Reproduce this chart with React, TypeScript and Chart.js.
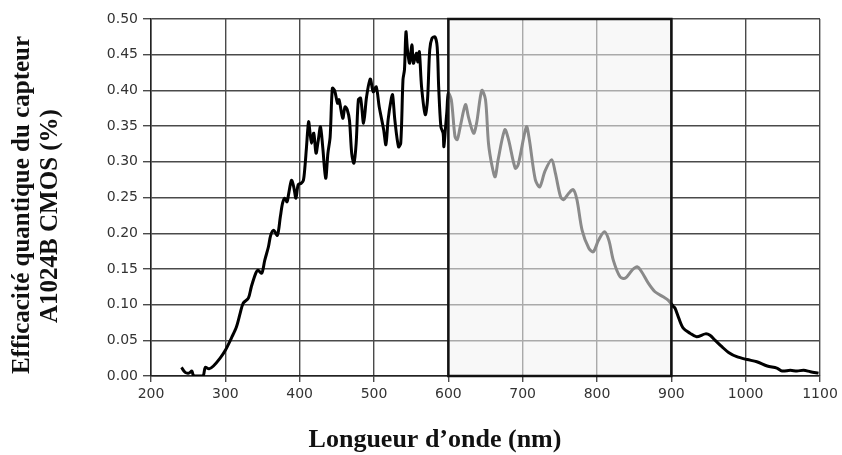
import React, { useEffect, useRef } from "react";
import { Chart, registerables } from "chart.js";

Chart.register(...registerables);

const wavelengths = [
  241, 246, 251, 255, 257, 262, 270, 273, 278, 284, 293, 300, 309, 315, 320, 324, 331, 335, 341, 344,
  349, 353, 358, 361, 365, 370, 374, 377, 380, 383, 385, 389, 392, 395, 398, 402, 405, 407, 409, 412,
  414, 416, 419, 422, 425, 428, 431, 435, 438, 441, 444, 447, 451, 453, 458, 461, 464, 467, 470, 473,
  476, 479, 482, 486, 490, 495, 499, 503, 507, 513, 516, 519, 523, 525, 528, 533, 536, 539, 541, 543,
  545, 548, 551, 553, 557, 559, 561, 564, 569, 572, 575, 578, 582, 585, 587, 590, 593, 594, 596, 598,
  600, 604, 609, 612, 616, 623, 627, 634, 638, 645, 650, 654, 659, 663, 667, 676, 681, 690, 694, 705,
  709, 717, 723, 730, 739, 744, 751, 755, 762, 768, 773, 780, 789, 795, 802, 810, 816, 822, 831, 838,
  847, 854, 860, 869, 878, 889, 896, 903, 905, 910, 916, 925, 934, 946, 952, 959, 968, 977, 988, 1002,
  1015, 1029, 1042, 1049, 1060, 1069, 1078, 1087, 1098,
];

const efficiency = [
  0.012, 0.005, 0.004, 0.007, 0.001, 0.0, 0.0, 0.012, 0.01, 0.014, 0.025, 0.036, 0.055, 0.069, 0.088, 0.102, 0.109, 0.125, 0.144, 0.148,
  0.144, 0.162, 0.181, 0.197, 0.204, 0.197, 0.223, 0.242, 0.249, 0.244, 0.254, 0.274, 0.265, 0.249, 0.268, 0.27, 0.274, 0.292, 0.318, 0.356,
  0.34, 0.326, 0.34, 0.312, 0.33, 0.349, 0.321, 0.277, 0.312, 0.335, 0.403, 0.4, 0.382, 0.387, 0.361, 0.377, 0.373, 0.358, 0.312, 0.298,
  0.326, 0.387, 0.389, 0.354, 0.391, 0.416, 0.398, 0.405, 0.377, 0.345, 0.324, 0.359, 0.387, 0.394, 0.359, 0.321, 0.326, 0.415, 0.429, 0.482,
  0.457, 0.438, 0.464, 0.438, 0.452, 0.44, 0.454, 0.405, 0.366, 0.387, 0.457, 0.473, 0.475, 0.461, 0.405, 0.349, 0.34, 0.321, 0.345, 0.37,
  0.396, 0.387, 0.335, 0.331, 0.349, 0.38, 0.363, 0.34, 0.354, 0.4, 0.387, 0.326, 0.293, 0.279, 0.303, 0.345, 0.331, 0.291, 0.296, 0.349,
  0.331, 0.275, 0.265, 0.287, 0.303, 0.284, 0.251, 0.247, 0.256, 0.261, 0.247, 0.204, 0.179, 0.174, 0.19, 0.202, 0.19, 0.162, 0.139, 0.137,
  0.148, 0.153, 0.146, 0.13, 0.118, 0.111, 0.106, 0.097, 0.095, 0.081, 0.067, 0.06, 0.055, 0.059, 0.057, 0.05, 0.041, 0.033, 0.027, 0.023,
  0.02, 0.014, 0.011, 0.007, 0.008, 0.007, 0.008, 0.006, 0.004,
];

const highlightRange = [600, 900];
const xTitle = "Longueur d\u2019onde (nm)";
const yTitleLines = ["Efficacité quantique du capteur", "A1024B CMOS (%)"];

const serif = "'Liberation Serif', 'Times New Roman', serif";

const overlayPlugin = {
  id: "overlay",
  afterDatasetsDraw(chart: any) {
    const { ctx, scales } = chart;
    const x0 = scales.x.getPixelForValue(highlightRange[0]);
    const x1 = scales.x.getPixelForValue(highlightRange[1]);
    const y0 = scales.y.getPixelForValue(0.5);
    const y1 = scales.y.getPixelForValue(0);
    ctx.save();
    ctx.fillStyle = "rgba(243,243,243,0.57)";
    ctx.fillRect(x0, y0, x1 - x0, y1 - y0);
    ctx.strokeStyle = "#111";
    ctx.lineWidth = 2.5;
    ctx.strokeRect(x0, y0, x1 - x0, y1 - y0);
    ctx.restore();
  },
  afterDraw(chart: any) {
    const { ctx } = chart;
    ctx.save();
    ctx.fillStyle = "#111";
    ctx.textAlign = "center";
    ctx.textBaseline = "middle";
    ctx.font = `bold 26px ${serif}`;
    ctx.fillText(xTitle, 435, 440);
    ctx.font = `bold 25px ${serif}`;
    ctx.save();
    ctx.translate(23, 205);
    ctx.rotate(-Math.PI / 2);
    ctx.fillText(yTitleLines[0], 0, 0);
    ctx.restore();
    ctx.save();
    ctx.translate(51, 216);
    ctx.rotate(-Math.PI / 2);
    ctx.fillText(yTitleLines[1], 0, 0);
    ctx.restore();
    ctx.restore();
  },
};

export default function App() {
  const ref = useRef<HTMLCanvasElement | null>(null);
  useEffect(() => {
    if (!ref.current) return;
    const points = wavelengths.map((w, i) => ({ x: w, y: efficiency[i] }));
    const gridColor = "#4a4a4a";
    const tickFont = { family: "'DejaVu Sans', Verdana, sans-serif", size: 14 };
    const chart = new Chart(ref.current, {
      type: "line",
      data: {
        datasets: [
          {
            data: points,
            borderColor: "#000",
            borderWidth: 3,
            pointRadius: 0,
            tension: 0.3,
            fill: false,
          },
        ],
      },
      options: {
        animation: false,
        responsive: false,
        maintainAspectRatio: false,
        layout: { padding: { left: 0, right: 22, top: 19, bottom: 0 } },
        plugins: { legend: { display: false }, tooltip: { enabled: false } },
        scales: {
          x: {
            type: "linear",
            min: 200,
            max: 1100,
            afterFit: (s: any) => {
              s.height = 79;
            },
            ticks: {
              stepSize: 100,
              color: "#333",
              padding: 4,
              font: tickFont,
              callback: (v: any) => String(v),
            },
            grid: { color: gridColor, lineWidth: 1.4, tickLength: 6 },
            border: { color: "#222", width: 1.5 },
          },
          y: {
            type: "linear",
            min: 0,
            max: 0.5,
            afterFit: (s: any) => {
              s.width = 151;
            },
            ticks: {
              stepSize: 0.05,
              color: "#333",
              padding: 5,
              font: tickFont,
              callback: (v: any) => Number(v).toFixed(2),
            },
            grid: { color: gridColor, lineWidth: 1.4, tickLength: 8 },
            border: { color: "#222", width: 1.5 },
          },
        },
      },
      plugins: [overlayPlugin],
    });
    return () => chart.destroy();
  }, []);
  return (
    <div style={{ position: "fixed", left: 0, top: 0, width: 842, height: 455, background: "#fff" }}>
      <canvas ref={ref} width={842} height={455} style={{ width: 842, height: 455 }} />
    </div>
  );
}
